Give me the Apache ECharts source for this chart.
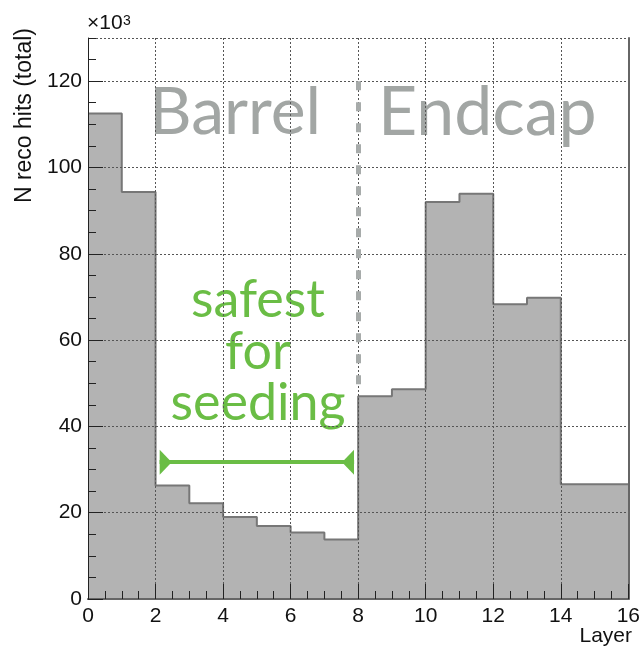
<!DOCTYPE html>
<html>
<head>
<meta charset="utf-8">
<script src="https://cdn.jsdelivr.net/npm/echarts@6/dist/echarts.min.js"></script>
<style>
  html, body { margin: 0; padding: 0; background: #fff; }
  #chart { width: 643px; height: 646px; }
</style>
</head>
<body>
<div id="chart"></div>
<script>
// Reconstructed hits per tracker layer (in units of 10^3)
const layerEdges = [0, 1, 2, 3, 4, 5, 6, 7, 8, 9, 10, 11, 12, 13, 14, 15, 16];
const hitsThousands = [112.5, 94.3, 26.3, 22.2, 19.0, 16.9, 15.4, 13.8,
                       47.0, 48.6, 92.0, 93.9, 68.3, 69.8, 26.6, 26.6];

// Barrel / endcap boundary and the layer range marked as safest for seeding
const boundaryLayer = 8;
const boundaryRange = [47.6, 120];
const seedingRange = [2.12, 7.88];
const seedingArrowCentres = [2.3, 7.7];
const seedingLevel = 31.7;

// Step outline: each bin's height held from its low edge to its high edge
const stepPoints = layerEdges.map((x, i) => [x, hitsThousands[Math.min(i, hitsThousands.length - 1)]]);

const axisFont = 'Liberation Sans, Arial, sans-serif';
const labelFont = 'Lato, "Open Sans", sans-serif';
const tickColor = '#222';
const gridDots = { color: '#555', width: 1, type: [2, 2] };

const chart = echarts.init(document.getElementById('chart'), null, { renderer: 'canvas' });

chart.setOption({
  animation: false,
  backgroundColor: '#fff',
  grid: { left: 88, right: 11, top: 38, bottom: 47, containLabel: false },
  xAxis: [
    {
      type: 'value', min: 0, max: 16, interval: 2, z: 3,
      axisLine: { show: true, lineStyle: { color: tickColor, width: 1 } },
      axisTick: { show: true, inside: true, length: 15, lineStyle: { color: tickColor } },
      minorTick: { show: true, splitNumber: 4, length: 8, lineStyle: { color: tickColor } },
      axisLabel: { color: '#111', fontSize: 21, fontFamily: axisFont, margin: 7 },
      splitLine: { show: true, lineStyle: gridDots }
    },
    {
      type: 'value', min: 0, max: 16, position: 'top', z: 3,
      axisLine: { show: true, lineStyle: { color: '#666', width: 2 } },
      axisTick: { show: false }, axisLabel: { show: false }, splitLine: { show: false }
    }
  ],
  yAxis: [
    {
      type: 'value', min: 0, max: 130, interval: 20, z: 3,
      axisLine: { show: true, lineStyle: { color: tickColor, width: 1 } },
      axisTick: { show: true, inside: true, length: 15, lineStyle: { color: tickColor } },
      axisLabel: { color: '#111', fontSize: 21, fontFamily: axisFont, margin: 6, showMaxLabel: false },
      splitLine: { show: true, lineStyle: gridDots }
    },
    {
      // finer ticks every 5
      type: 'value', min: 0, max: 130, interval: 5, position: 'left', z: 3,
      axisLine: { show: false },
      axisTick: { show: true, inside: true, length: 8, lineStyle: { color: tickColor } },
      axisLabel: { show: false }, splitLine: { show: false }
    },
    {
      type: 'value', min: 0, max: 130, position: 'right', z: 3,
      axisLine: { show: true, lineStyle: { color: '#666', width: 2 } },
      axisTick: { show: false }, axisLabel: { show: false }, splitLine: { show: false }
    }
  ],
  series: [
    {
      type: 'line',
      step: 'end',
      data: stepPoints,
      symbol: 'none',
      z: 2,
      silent: true,
      lineStyle: { color: '#777', width: 2 },
      areaStyle: { color: '#b3b3b3', opacity: 1 },
      markLine: {
        silent: true,
        symbol: ['none', 'none'],
        label: { show: false },
        animation: false,
        data: [
          [
            { coord: [boundaryLayer, boundaryRange[1]], lineStyle: { color: '#a7abaa', width: 5, type: [9, 12] } },
            { coord: [boundaryLayer, boundaryRange[0]] }
          ],
          [
            { coord: [seedingRange[0], seedingLevel], lineStyle: { color: '#6abd45', width: 4, type: 'solid' } },
            { coord: [seedingRange[1], seedingLevel] }
          ]
        ]
      },
      markPoint: {
        silent: true,
        animation: false,
        label: { show: false },
        data: [
          { coord: [seedingArrowCentres[0], seedingLevel], symbol: 'path://M0,0 L12,12 L0,24 Z', symbolSize: [12, 25], itemStyle: { color: '#6abd45' } },
          { coord: [seedingArrowCentres[1], seedingLevel], symbol: 'path://M12,0 L0,12 L12,24 Z', symbolSize: [12, 25], itemStyle: { color: '#6abd45' } }
        ]
      }
    }
  ],
  graphic: [
    { type: 'text', x: 87, y: 34,
      style: { text: '×10', fontSize: 21, fontFamily: axisFont, fill: '#111', align: 'left', verticalAlign: 'bottom' } },
    { type: 'text', x: 123, y: 28,
      style: { text: '3', fontSize: 14, fontFamily: axisFont, fill: '#111', align: 'left', verticalAlign: 'bottom' } },
    { type: 'text', x: 25, y: 28, rotation: Math.PI / 2,
      style: { text: 'N reco hits (total)', fontSize: 23, fontFamily: axisFont, fill: '#111', align: 'right', verticalAlign: 'middle' } },
    { type: 'text', right: 11, top: 626, style: { text: 'Layer', fontSize: 21, fontFamily: axisFont, fill: '#111' } },
    { type: 'text', x: 149, y: 113, style: { text: 'Barrel', fontSize: 66, fontFamily: labelFont, fill: '#a2a6a4', align: 'left', verticalAlign: 'middle' } },
    { type: 'text', x: 378, y: 113, style: { text: 'Endcap', fontSize: 68, fontFamily: labelFont, fill: '#a2a6a4', align: 'left', verticalAlign: 'middle' } },
    { type: 'text', x: 258, y: 300, style: { text: 'safest', fontSize: 52, fontFamily: labelFont, fill: '#6abd45', align: 'center', verticalAlign: 'middle' } },
    { type: 'text', x: 258, y: 352, style: { text: 'for', fontSize: 52, fontFamily: labelFont, fill: '#6abd45', align: 'center', verticalAlign: 'middle' } },
    { type: 'text', x: 258, y: 403, style: { text: 'seeding', fontSize: 52, fontFamily: labelFont, fill: '#6abd45', align: 'center', verticalAlign: 'middle' } }
  ]
});
</script>
</body>
</html>
